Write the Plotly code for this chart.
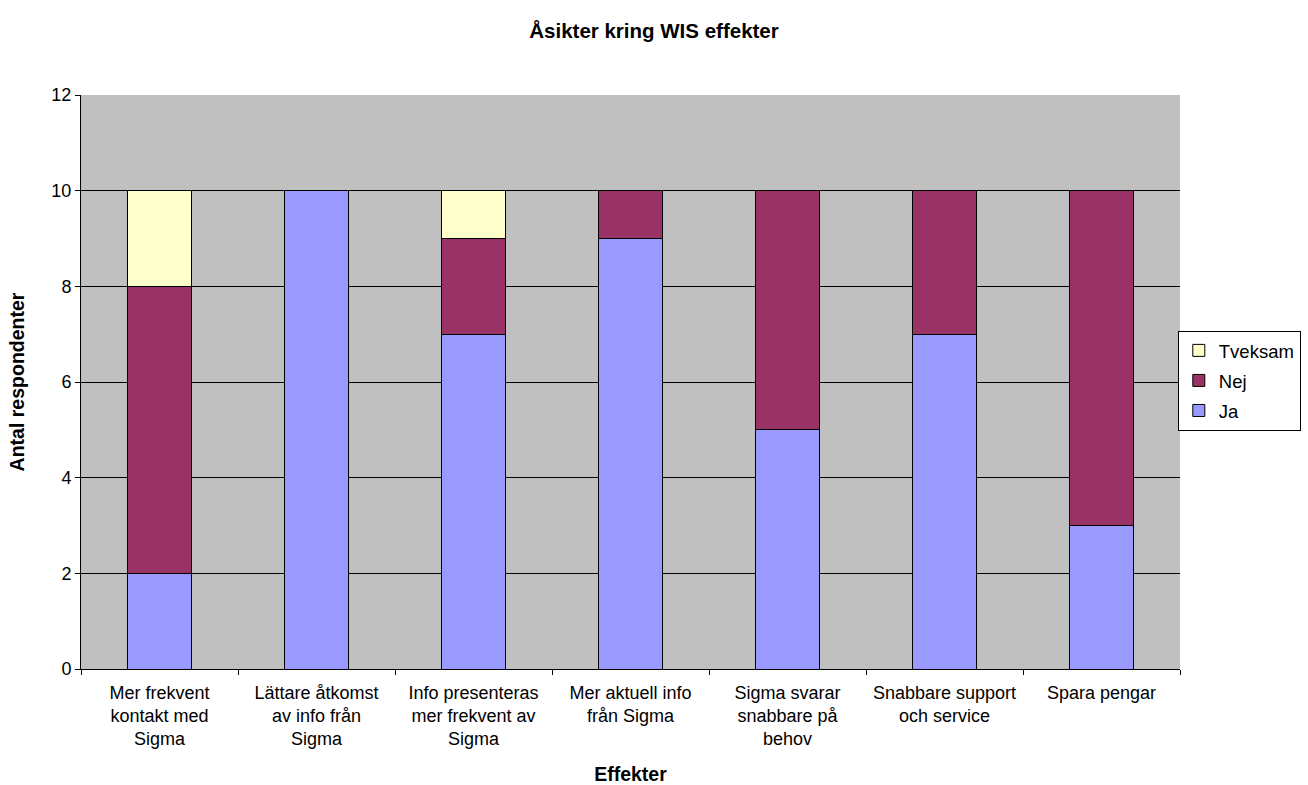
import plotly.graph_objects as go

categories = [
    "Mer frekvent<br>kontakt med<br>Sigma",
    "Lättare åtkomst<br>av info från<br>Sigma",
    "Info presenteras<br>mer frekvent av<br>Sigma",
    "Mer aktuell info<br>från Sigma",
    "Sigma svarar<br>snabbare på<br>behov",
    "Snabbare support<br>och service",
    "Spara pengar",
]
ja = [2, 10, 7, 9, 5, 7, 3]
nej = [6, 0, 2, 1, 5, 3, 7]
tveksam = [2, 0, 1, 0, 0, 0, 0]
y_ticks = [0, 2, 4, 6, 8, 10, 12]

FONT = "Liberation Sans, Arial, sans-serif"

fig = go.Figure()
for rank, (name, vals, col) in enumerate([("Ja", ja, "#9999FF"), ("Nej", nej, "#993366"), ("Tveksam", tveksam, "#FFFFCC")]):
    fig.add_trace(go.Bar(
        x=categories, y=vals, name=name, legendgroup=name, legendrank=1000 - rank,
        marker=dict(color=col, line=dict(color="black", width=1)),
    ))

fig.update_layout(
    barmode="stack",
    bargap=0.59,
    width=1308, height=785,
    margin=dict(l=81, r=128, t=95, b=116, autoexpand=False),
    paper_bgcolor="white",
    plot_bgcolor="#C0C0C0",
    font=dict(family=FONT, size=18, color="black"),
    title=dict(text="<b>Åsikter kring WIS effekter</b>", x=0.5, xanchor="center",
               y=1 - 31 / 785, yanchor="middle", font=dict(size=20.5, family=FONT)),
    legend=dict(
        x=0.998, xanchor="left", y=0.502, yanchor="middle",
        traceorder="grouped",
        bordercolor="black", borderwidth=1, bgcolor="white",
        font=dict(size=18.5, family=FONT),
        itemwidth=30,
        tracegroupgap=3,
    ),
    showlegend=True,
)
fig.update_xaxes(
    title=dict(text="<b>Effekter</b>", font=dict(size=19.5), standoff=18),
    tickson="boundaries", ticks="outside", ticklen=5, tickcolor="black",
    ticklabelstandoff=7,
    showline=True, linecolor="black", linewidth=1,
    showgrid=False, mirror=False, automargin=False,
)
fig.update_yaxes(
    title=dict(text="<b>Antal respondenter</b>", font=dict(size=19.5), standoff=21),
    range=[0, 12], tickvals=y_ticks, ticks="outside", ticklen=5, tickcolor="black",
    showline=True, linecolor="black", linewidth=1,
    showgrid=True, gridcolor="black", gridwidth=1, zeroline=False,
    automargin=False,
)

fig.write_html("out.html")
